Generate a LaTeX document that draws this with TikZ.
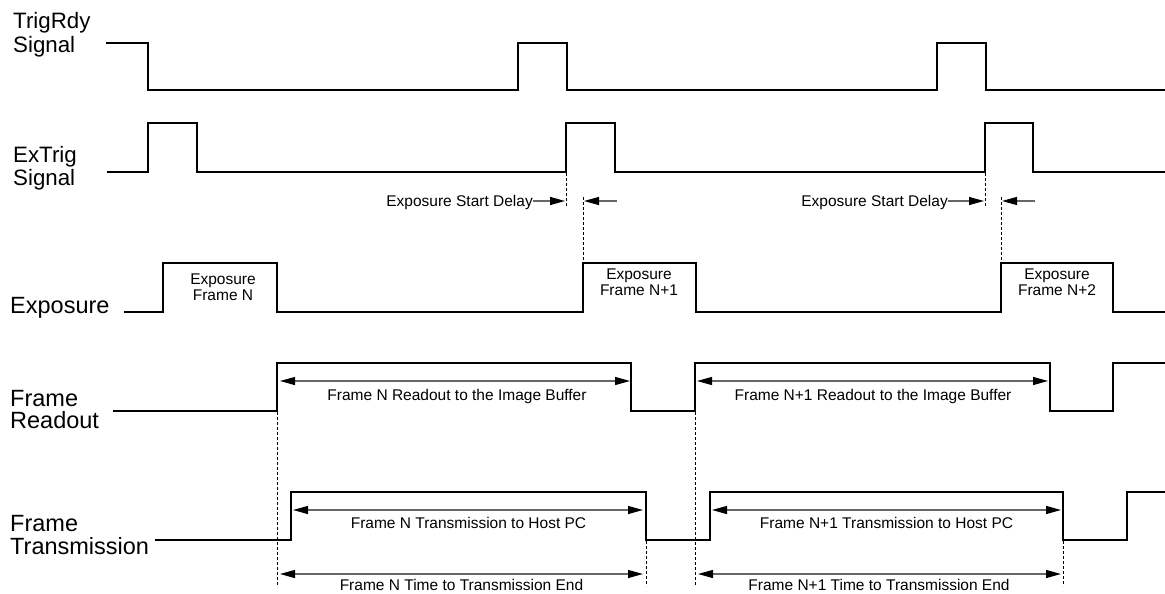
\documentclass[tikz,border=0pt]{standalone}
\usepackage{fontspec}
\setmainfont{Liberation Sans}
\usetikzlibrary{arrows.meta}
\begin{document}
\begin{tikzpicture}[x=1pt,y=-1pt,
  sig/.style={line width=2.9pt, line join=miter, line cap=butt},
  lbl/.style={font=\fontsize{22.3}{24}\selectfont, inner sep=0pt, anchor=base west},
  lblbig/.style={font=\fontsize{23.5}{24}\selectfont, inner sep=0pt, anchor=base west},
  smalltxt/.style={font=\fontsize{15.5}{16}\selectfont, inner sep=0pt},
  dimarrow/.style={line width=1.2pt, draw=black!60, {Triangle[length=15pt,width=8pt,color=black]}-{Triangle[length=15pt,width=8pt,color=black]}},
  onearrow/.style={line width=1.2pt, draw=black!60, -{Triangle[length=15pt,width=8pt,color=black]}},
  guide/.style={line width=0.9pt, dash pattern=on 3pt off 2pt}]
\useasboundingbox (0,0) rectangle (1165,594);

% signal labels
\node[lbl] (trigA) at (13,29) {TrigRdy};
\node[lbl] (trigB) at (13,53) {Signal};
\node[lbl] (extA) at (13,162) {ExTrig};
\node[lbl] (extB) at (13,185) {Signal};
\node[lblbig] (expo) at (10,313) {Exposure};
\node[lblbig] (readA) at (10,406) {Frame};
\node[lblbig] (readB) at (10,428.5) {Readout};
\node[lblbig] (transA) at (10,531.5) {Frame};
\node[lblbig] (transB) at (10,554) {Transmission};

% waveforms
\draw[sig] (106,43) -- (148,43) -- (148,90) -- (518,90) -- (518,43) -- (567,43) -- (567,90)
  -- (937,90) -- (937,43) -- (986,43) -- (986,90) -- (1165,90);
\draw[sig] (107,172) -- (148,172) -- (148,123) -- (197,123) -- (197,172) -- (566,172) -- (566,123)
  -- (615,123) -- (615,172) -- (985,172) -- (985,123) -- (1033,123) -- (1033,172) -- (1165,172);
\draw[sig] (124,312) -- (163,312) -- (163,263) -- (277,263) -- (277,312) -- (583,312) -- (583,263)
  -- (696,263) -- (696,312) -- (1001,312) -- (1001,263) -- (1113,263) -- (1113,312) -- (1165,312);
\draw[sig] (113,411) -- (277,411) -- (277,363) -- (631,363) -- (631,411) -- (695,411) -- (695,363)
  -- (1050,363) -- (1050,411) -- (1113,411) -- (1113,363) -- (1165,363);
\draw[sig] (155,540) -- (291,540) -- (291,492) -- (646,492) -- (646,540) -- (710,540) -- (710,492)
  -- (1063,492) -- (1063,540) -- (1127,540) -- (1127,492) -- (1165,492);

% exposure labels
\node[smalltxt, anchor=base] (eN1) at (223,284.3) {Exposure};
\node[smalltxt, anchor=base] (eN2) at (223,300) {Frame N};
\node[smalltxt, anchor=base] (eM1) at (639,279.3) {Exposure};
\node[smalltxt, anchor=base] (eM2) at (639,295) {Frame N+1};
\node[smalltxt, anchor=base] (eP1) at (1057,279.3) {Exposure};
\node[smalltxt, anchor=base] (eP2) at (1057,295) {Frame N+2};

% dashed guides
\draw[guide] (566,173) -- (566,207);
\draw[guide] (583,197) -- (583,263);
\draw[guide] (985,173) -- (985,207);
\draw[guide] (1001,197) -- (1001,263);
\draw[guide] (277,412) -- (277,586);
\draw[guide] (695,412) -- (695,586);
\draw[guide] (646,541) -- (646,586);
\draw[guide] (1063,541) -- (1063,586);

% exposure start delay
\node[smalltxt, anchor=base east] (esd1) at (533,206) {Exposure Start Delay};
\coordinate (esd1a) at (565,201);
\coordinate (esd1b) at (617,201);
\coordinate (esd1c) at (584,201);
\draw[onearrow] (esd1.east |- esd1a) -- (esd1a);
\draw[onearrow] (esd1b) -- (esd1c);
\node[smalltxt, anchor=base east] (esd2) at (948,206) {Exposure Start Delay};
\coordinate (esd2a) at (984,201);
\coordinate (esd2b) at (1035,201);
\coordinate (esd2c) at (1002,201);
\draw[onearrow] (esd2.east |- esd2a) -- (esd2a);
\draw[onearrow] (esd2b) -- (esd2c);

% readout arrows
\coordinate (rA1) at (280,381); \coordinate (rA2) at (630,381);
\coordinate (rB1) at (697,381); \coordinate (rB2) at (1048,381);
\draw[dimarrow] (rA1) -- (rA2);
\draw[dimarrow] (rB1) -- (rB2);
\node[smalltxt, anchor=base] (rlA) at (457,400) {Frame N Readout to the Image Buffer};
\node[smalltxt, anchor=base] (rlB) at (873,400) {Frame N+1 Readout to the Image Buffer};

% transmission arrows
\coordinate (tA1) at (293,510); \coordinate (tA2) at (643,510);
\coordinate (tB1) at (712,510); \coordinate (tB2) at (1061,510);
\draw[dimarrow] (tA1) -- (tA2);
\draw[dimarrow] (tB1) -- (tB2);
\node[smalltxt, anchor=base] (tlA) at (468.5,528.3) {Frame N Transmission to Host PC};
\node[smalltxt, anchor=base] (tlB) at (886.5,528.3) {Frame N+1 Transmission to Host PC};

% time to transmission end
\coordinate (eA1) at (280,574); \coordinate (eA2) at (643,574);
\coordinate (eB1) at (698,574); \coordinate (eB2) at (1061,574);
\draw[dimarrow] (eA1) -- (eA2);
\draw[dimarrow] (eB1) -- (eB2);
\node[smalltxt, anchor=base] (elA) at (461.5,590) {Frame N Time to Transmission End};
\node[smalltxt, anchor=base] (elB) at (879,590) {Frame N+1 Time to Transmission End};
\end{tikzpicture}
\end{document}
